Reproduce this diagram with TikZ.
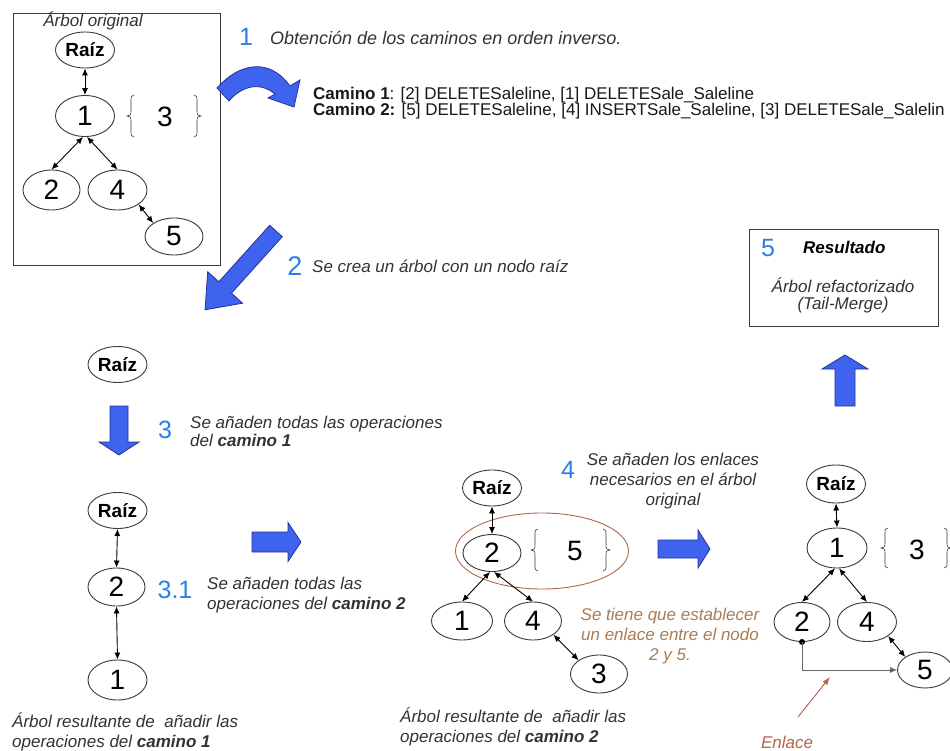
\documentclass[tikz,border=0pt]{standalone}
\usepackage{fontspec}
\setmainfont{Liberation Sans}
\usetikzlibrary{shapes.geometric,arrows.meta}

\definecolor{arrowblue}{HTML}{3F63EE}
\definecolor{arrowedge}{HTML}{22339A}
\definecolor{numblue}{HTML}{2C7FE6}
\definecolor{txtgray}{HTML}{333333}
\definecolor{linegray}{HTML}{3A3A3A}
\definecolor{linkbrown}{HTML}{B0674A}
\definecolor{notebrown}{HTML}{A97D57}

% straight block arrow: tail centre x, y, direction, length, shaft width, head width, head length
\newcommand{\blockarrow}[7]{%
  \begin{scope}[shift={(#1,#2)}, rotate=#3]
    \filldraw[fill=arrowblue, draw=arrowedge, line width=0.8pt, line join=miter]
      (0,-#5/2) -- (#4-#7,-#5/2) -- (#4-#7,-#6/2) -- (#4,0) -- (#4-#7,#6/2)
      -- (#4-#7,#5/2) -- (0,#5/2) -- cycle;
  \end{scope}}

% thin curly braces: stem x, top y, bottom y
\newcommand{\leftbr}[3]{%
  \pgfmathsetmacro\brmid{(#2+#3)/2}%
  \draw[bracestyle] (#1+3,#2) .. controls (#1,#2) and (#1,#2+2) .. (#1,#2+6)
    -- (#1,\brmid-5) .. controls (#1,\brmid-1) and (#1-1,\brmid) .. (#1-4,\brmid)
    .. controls (#1-1,\brmid) and (#1,\brmid+1) .. (#1,\brmid+5)
    -- (#1,#3-6) .. controls (#1,#3-2) and (#1,#3) .. (#1+3,#3);}
\newcommand{\rightbr}[3]{%
  \pgfmathsetmacro\brmid{(#2+#3)/2}%
  \draw[bracestyle] (#1-3,#2) .. controls (#1,#2) and (#1,#2+2) .. (#1,#2+6)
    -- (#1,\brmid-5) .. controls (#1,\brmid-1) and (#1+1,\brmid) .. (#1+4,\brmid)
    .. controls (#1+1,\brmid) and (#1,\brmid+1) .. (#1,\brmid+5)
    -- (#1,#3-6) .. controls (#1,#3-2) and (#1,#3) .. (#1-3,#3);}

\tikzset{
  bracestyle/.style={draw=linegray, line width=0.6pt},
  treenode/.style={ellipse, draw=linegray, line width=0.9pt, inner sep=0pt,
    minimum width=59pt, minimum height=38pt, font=\fontsize{28}{28}\selectfont},
  rootnode/.style={treenode, minimum height=36pt, font=\fontsize{19}{19}\selectfont\bfseries},
  dbl/.style={{Latex[length=7pt,width=6pt]}-{Latex[length=7pt,width=6pt]}, line width=0.9pt},
  note/.style={font=\fontsize{17}{20}\selectfont\itshape, text=txtgray, inner sep=0pt, align=left, anchor=west},
  stepnum/.style={font=\fontsize{25}{25}\selectfont, text=numblue, inner sep=0pt},
  digit/.style={font=\fontsize{28}{28}\selectfont, inner sep=0pt},
}

\begin{document}
\begin{tikzpicture}[x=1pt,y=-1pt]
\clip (0,0) rectangle (950,751);
\fill[white] (0,0) rectangle (950,751);

% ---------- original tree ----------
\node[draw=linegray, line width=0.9pt, minimum width=207pt, minimum height=252pt,
      inner sep=0pt, anchor=north west] (origbox) at (13,13) {};
\node[note, anchor=center] (origlbl) at (93,21) {Árbol original};
\node[rootnode] (oR) at (85,50) {Raíz};
\node[treenode, minimum height=41pt] (o1) at (85,116) {1};
\node[treenode, minimum width=57pt, minimum height=40pt] (o2) at (51.5,190) {2};
\node[treenode, minimum height=40pt] (o4) at (117.5,190) {4};
\node[treenode, minimum width=58pt, minimum height=37pt] (o5) at (174,236.5) {5};
\leftbr{131}{95}{137}
\node[digit] (o3) at (165,117) {3};
\rightbr{197}{95}{137}
\draw[dbl] (oR.south) -- (o1.north);
\draw[dbl] ([xshift=-2pt]o1.south) -- (o2.north);
\draw[dbl] ([xshift=2pt]o1.south) -- (o4.north);
\draw[dbl] (o4.south east) -- (o5.north west);

% ---------- step 1 ----------
\filldraw[fill=arrowblue, draw=arrowedge, line width=0.8pt, line join=miter]
  (217,88) -- (229,101) .. controls (240,88) and (258,80) .. (275,94)
  -- (268,98) -- (294,107) -- (300,80) -- (290,86)
  .. controls (270,58) and (240,62) .. (217,88) -- cycle;
\node[stepnum] (s1) at (246,37) {1};
\node[note, font=\fontsize{18}{20}\selectfont\itshape] (s1txt) at (270,38)
  {Obtención de los caminos en orden inverso.};
\node[inner sep=0pt, anchor=west, align=left, text=black!90,
      font=\fontsize{17}{16.5}\selectfont] (paths) at (313,103)
  {\textbf{Camino 1}: [2] DELETESaleline, [1] DELETESale\_Saleline\\
   \textbf{Camino 2:} [5] DELETESaleline, [4] INSERTSale\_Saleline, [3] DELETESale\_Salelin};

% ---------- step 2 ----------
\blockarrow{276}{231}{228}{106}{17}{47}{30}
\node[stepnum, font=\fontsize{27}{27}\selectfont] (s2) at (295,266) {2};
\node[note] (s2txt) at (312,266) {Se crea un árbol con un nodo raíz};
\node[rootnode] (aR) at (117.5,364.5) {Raíz};

% ---------- step 3 ----------
\blockarrow{119}{406}{270}{49}{18}{40}{13}
\node[stepnum] (s3) at (165,430) {3};
\node[note, font=\fontsize{17}{18}\selectfont\itshape] (s3txt) at (190,431)
  {Se añaden todas las operaciones\\del \textbf{camino 1}};

\node[rootnode] (bR) at (117.5,510.5) {Raíz};
\node[treenode, minimum width=57pt] (b2) at (116.5,587) {2};
\node[treenode, minimum height=40pt] (b1) at (117.5,680) {1};
\draw[dbl] (bR.south) -- (b2.north);
\draw[dbl] (b2.south) -- (b1.north);
\node[stepnum] (s31) at (175,590) {3.1};
\node[note] (s31txt) at (207,595)
  {Se añaden todas las\\operaciones del \textbf{camino 2}};
\node[note] (cap1) at (12,732)
  {Árbol resultante de~ añadir las\\operaciones del \textbf{camino 1}};

\blockarrow{252}{542}{0}{49}{20}{39}{13}

% ---------- tree after path 2 ----------
\node[rootnode] (cR) at (492,488) {Raíz};
\node[treenode, minimum width=58pt, minimum height=37pt] (c2) at (492,553) {2};
\leftbr{535}{529}{571}
\node[digit] (c5) at (575,551) {5};
\rightbr{606}{529}{571}
\node[ellipse, draw=linkbrown, line width=0.9pt, minimum width=173pt,
      minimum height=76pt, inner sep=0pt] (grp) at (542,551) {};
\node[treenode, minimum width=61pt] (c1) at (462,621) {1};
\node[treenode, minimum width=57pt] (c4) at (533,621) {4};
\node[treenode, minimum width=57pt] (c3) at (599,674) {3};
\draw[dbl] (cR.south) -- (c2.north);
\draw[dbl] ([xshift=-2pt]c2.south) -- (c1.north);
\draw[dbl] ([xshift=2pt]c2.south) -- (c4.north);
\draw[dbl] (c4.south east) -- (c3.north west);
\node[note] (cap2) at (400,727)
  {Árbol resultante de~ añadir las\\operaciones del \textbf{camino 2}};

% ---------- step 4 ----------
\node[stepnum] (s4) at (568,470) {4};
\node[note, align=center, anchor=center] (s4txt) at (673,481)
  {Se añaden los enlaces\\necesarios en el árbol\\original};
\node[note, align=center, anchor=center, text=notebrown] (hint) at (670,636)
  {Se tiene que establecer\\un enlace entre el nodo\\2 y 5.};
\blockarrow{658}{549}{0}{52}{18}{38}{12}

% ---------- refactored tree ----------
\node[rootnode, minimum height=38pt] (dR) at (836,484) {Raíz};
\node[treenode, minimum width=60pt, minimum height=40pt] (d1) at (837,548) {1};
\leftbr{885}{528}{568}
\node[digit] (d3) at (917,550) {3};
\rightbr{947}{528}{568}
\node[treenode, minimum width=56pt, minimum height=39pt] (d2) at (802,622) {2};
\node[treenode, minimum height=39pt] (d4) at (867,622) {4};
\node[treenode, minimum width=55pt, minimum height=36pt] (d5) at (925,670) {5};
\draw[dbl] (dR.south) -- (d1.north);
\draw[dbl] ([xshift=-2pt]d1.south) -- (d2.north);
\draw[dbl] ([xshift=2pt]d1.south) -- (d4.north);
\draw[dbl] (d4.south east) -- (d5.north west);
\fill[black] (d2.south) circle (3);
\draw[-{Latex[length=7pt,width=6pt]}, draw=black!60, line width=0.9pt]
  (d2.south) |- (d5.west);
\node[note, anchor=center, text=linkbrown] (enl) at (787,742) {Enlace};
\coordinate (enlfrom) at (798,717);
\coordinate (enlto) at (830,677);
\draw[-{Latex[length=8pt,width=6pt]}, draw=linkbrown, line width=0.9pt] (enlfrom) -- (enlto);

% ---------- step 5 ----------
\blockarrow{845}{406}{90}{51}{20}{46}{14}
\node[draw=linegray, line width=0.9pt, minimum width=189pt, minimum height=97pt,
      inner sep=0pt, anchor=north west] (resbox) at (749,229) {};
\node[stepnum] (s5) at (768,248) {5};
\node[note, font=\fontsize{17}{20}\selectfont\bfseries\itshape, text=black] (restitle) at (803,247) {Resultado};
\node[note, align=center, anchor=center, font=\fontsize{17}{17}\selectfont\itshape] (restxt) at (843,295)
  {Árbol refactorizado\\(Tail-Merge)};
\end{tikzpicture}
\end{document}
